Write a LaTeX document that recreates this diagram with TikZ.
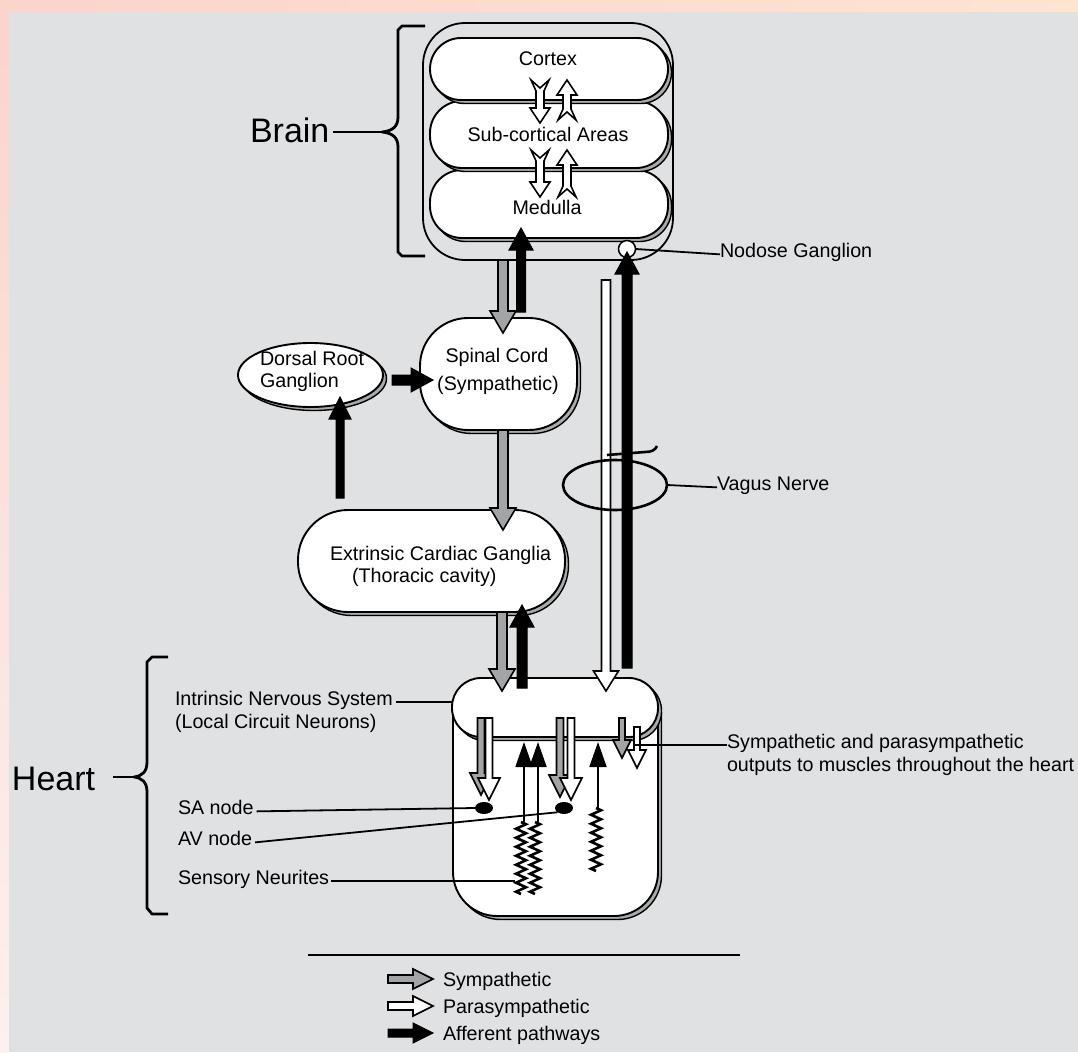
\documentclass[tikz,border=0pt]{standalone}
\usepackage{fontspec}
\setmainfont{Liberation Sans}
\usetikzlibrary{arrows.meta,calc,shapes.geometric,shadows,decorations.pathmorphing}
\definecolor{bgray}{HTML}{E0E1E3}
\definecolor{pinkA}{HTML}{FBD4CB}
\definecolor{peachA}{HTML}{FDE5D0}
\definecolor{pinkB}{HTML}{FDF0EE}
\definecolor{sgray}{HTML}{A2A4A6}
\definecolor{shgray}{HTML}{A8AAAC}

% block arrow: style, from, to, shaft half width, head half width, head length
\newcommand\blockarrow[6]{%
  \path[#1] let \p1=#2, \p2=#3,
    \n1={atan2(\y2-(\y1),\x2-(\x1))},
    \n2={abs(\x2-(\x1))+abs(\y2-(\y1))} in
    [shift={(\p1)}, rotate=\n1]
    (0,-#4) -- ({\n2-#6},-#4) -- ({\n2-#6},-#5) -- (\n2,0) --
    ({\n2-#6},#5) -- ({\n2-#6},#4) -- (0,#4) -- cycle;}
% fletched hollow arrow: style, from, to
\newcommand\fletch[3]{%
  \path[#1] let \p1=#2, \p2=#3,
    \n1={atan2(\y2-(\y1),\x2-(\x1))},
    \n2={abs(\x2-(\x1))+abs(\y2-(\y1))} in
    [shift={(\p1)}, rotate=\n1]
    (0,-9) -- (11,-4) -- ({\n2-15},-4) -- ({\n2-15},-10) -- (\n2,0) --
    ({\n2-15},10) -- ({\n2-15},4) -- (11,4) -- (0,9) -- (8,0) -- cycle;}

\tikzset{
  symp/.style={fill=sgray, draw=black, line width=1.6pt, line join=miter},
  para/.style={fill=white, draw=black, line width=1.6pt, line join=miter},
  aff/.style={fill=black, draw=black, line width=1pt},
  box/.style={draw=black, fill=white, line width=1.9pt,
     copy shadow={shadow xshift=3.5pt, shadow yshift=-3.5pt, fill=shgray, draw=black, line width=1.4pt}},
  txt/.style={anchor=base west, inner sep=0pt},
  ctxt/.style={anchor=base, inner sep=0pt},
  big/.style={font=\fontsize{34}{40}\selectfont},
  lead/.style={line width=1.8pt},
  bracesty/.style={line width=2.8pt, line join=round},
  thinaff/.style={line width=1.8pt, -{Triangle[width=17pt,length=25pt]}},
  neurite/.style={line width=2.6pt, decorate, decoration={zigzag, segment length=9pt, amplitude=5pt}},
}

\begin{document}
\begin{tikzpicture}[x=1pt, y=-1pt, every node/.style={inner sep=0pt, outer sep=0pt},
  font=\fontsize{19.7}{23}\selectfont]
\useasboundingbox (0,0) rectangle (1078,1052);
% background
\fill[pinkA] (0,0) rectangle (1078,1052);
\shade[left color=pinkA, right color=peachA] (0,0) rectangle (1078,12);
\shade[top color=pinkA, bottom color=pinkB] (0,12) rectangle (9,1052);
\fill[bgray] (9,12) rectangle (1078,1052);

% ---------------- Brain ----------------
\node[draw, line width=1.8pt, rounded corners=42pt, minimum width=250pt, minimum height=237pt] (brainbox) at (548,141.5) {};
\node[box, rounded corners=32pt, minimum width=238pt, minimum height=68pt] (medulla) at (549,204) {};
\node[box, rounded corners=32pt, minimum width=238pt, minimum height=67pt] (sub) at (549,134.5) {};
\node[box, rounded corners=31pt, minimum width=238pt, minimum height=62pt] (cortex) at (549,69) {};
\node[ctxt] (lcortex) at (548,65) {Cortex};
\node[ctxt] (lsub) at (548,141) {Sub-cortical Areas};
\node[ctxt] (lmed) at (547,214) {Medulla};
\fletch{para}{($(cortex.south)+(-9,-20)$)}{($(sub.north)+(-9,22)$)}
\fletch{para}{($(sub.north)+(18,19)$)}{($(cortex.south)+(18,-20)$)}
\fletch{para}{($(sub.south)+(-9,-18)$)}{($(medulla.north)+(-9,27)$)}
\fletch{para}{($(medulla.north)+(18,27)$)}{($(sub.south)+(18,-18)$)}

\node[txt, big] (brainlbl) at (250,142) {Brain};
\coordinate (bcusp) at (382,132);
\draw[bracesty] (425,26) -- (402,26) -- (398,30) -- (398,117)
  .. controls (398,127) and (392,131) .. (bcusp)
  .. controls (392,133) and (398,137) .. (398,147) -- (398,252) -- (402,256) -- (425,256);
\draw[line width=2.4pt] ($(brainlbl.east |- bcusp)+(4,0)$) -- (bcusp);

\node[circle, draw, fill=white, line width=1.5pt, minimum size=17pt] (nodose) at (627,249) {};
\node[txt] (nodlbl) at (720,257) {Nodose Ganglion};
\draw[lead] (nodose.east) -- (nodlbl.mid west);

% ---------------- Middle nodes ----------------
\node[box, rounded corners=48pt, minimum width=157pt, minimum height=112pt] (spinal) at (498.5,374) {};
\node[ctxt] (lspin1) at (497,362) {Spinal Cord};
\node[ctxt] (lspin2) at (498,390) {(Sympathetic)};

\node[box, ellipse, minimum width=145pt, minimum height=64pt] (drg) at (310.5,375) {};
\node[txt] (ldrg1) at (260,365) {Dorsal Root};
\node[txt] (ldrg2) at (260,387) {Ganglion};

\node[box, rounded corners=50pt, minimum width=267pt, minimum height=102pt] (extr) at (431.5,561) {};
\node[txt] (lext1) at (330,560) {Extrinsic Cardiac Ganglia};
\node[txt] (lext2) at (352,582) {(Thoracic cavity)};

% ---------------- Heart ----------------
\draw[fill=shgray, line width=1.4pt, rounded corners=44pt] (456.5,712) -- (456.5,919.5) -- (661.5,919.5) -- (661.5,712);
\draw[fill=white, line width=1.9pt, rounded corners=44pt] (453,712) -- (453,916) -- (658,916) -- (658,712);
\node[box, rounded corners=29pt, minimum width=206pt, minimum height=59pt] (lid) at (555,707.5) {};

% arrows between structures
\blockarrow{symp}{($(brainbox.south)+(-45,0)$)}{($(spinal.north)+(4.5,15)$)}{5}{13}{22}
\blockarrow{aff}{($(spinal.north)+(22.5,-6)$)}{($(medulla.south)+(-28,-10)$)}{4.5}{12}{22}
\blockarrow{aff}{($(drg.east)+(9,5)$)}{($(spinal.west)+(13,6)$)}{5}{12}{22}
\blockarrow{aff}{($(extr.north)+(-91.5,-12)$)}{($(drg.south)+(29.5,-10)$)}{4}{11}{22}
\blockarrow{symp}{($(spinal.south)+(4.5,0)$)}{($(extr.north)+(71.5,20)$)}{5}{13}{22}
\blockarrow{symp}{($(extr.south)+(70.5,0)$)}{($(lid.north)+(-53,13)$)}{5}{13}{22}
\blockarrow{aff}{($(lid.north)+(-33,10)$)}{($(extr.south)+(90.5,-7)$)}{5}{12}{22}
\blockarrow{para}{($(brainbox.south)+(58,20)$)}{($(lid.north)+(51,13)$)}{4.5}{12.5}{20}
\blockarrow{aff}{($(lid.north)+(72,-10)$)}{($(nodose.center)+(0,3)$)}{5}{12}{22}

% vagus loop
\coordinate (vag) at (615,485);
\draw[line width=2.6pt] (vag) ellipse [x radius=52pt, y radius=25pt];
\draw[line width=2.6pt] (607,455) -- (645,452) .. controls (652,452) and (655,450) .. (657,446);
\node[txt] (vaglbl) at (717,490) {Vagus Nerve};
\draw[lead] ($(vag)+(52,0)$) -- (vaglbl.mid west);

% inside heart
\node[ellipse, fill=black, minimum width=18pt, minimum height=12pt] (sa) at (484,808) {};
\node[ellipse, fill=black, minimum width=18pt, minimum height=12pt] (av) at (564,808) {};
\blockarrow{symp}{($(lid.south)+(-74,-19)$)}{($(sa)+(-3,-13)$)}{3.5}{11}{22}
\blockarrow{para}{($(lid.south)+(-66,-19)$)}{($(sa)+(5,-8)$)}{3.5}{11}{22}
\blockarrow{symp}{($(lid.south)+(5,-19)$)}{($(av)+(-4,-11)$)}{3.5}{11}{22}
\blockarrow{para}{($(lid.south)+(16,-19)$)}{($(av)+(7,-8)$)}{3.5}{11}{22}
\blockarrow{symp}{($(lid.south)+(67,-19)$)}{($(lid.south)+(67,21)$)}{3}{9}{18}
\blockarrow{para}{($(lid.south)+(82,-10)$)}{($(lid.south)+(82,31)$)}{3}{9}{18}

\coordinate (n1) at (524,822);
\coordinate (n2) at (538,822);
\coordinate (n3) at (598,808);
\draw[neurite] ($(n1)+(-3,0)$) -- ++(0,72);
\draw[neurite] ($(n2)+(-3,0)$) -- ++(0,72);
\draw[neurite] ($(n3)+(-2,0)$) -- ++(0,63);
\draw[thinaff] (n1) -- ($(lid.south)+(-31,5)$);
\draw[thinaff] (n2) -- ($(lid.south)+(-17,5)$);
\draw[thinaff] (n3) -- ($(lid.south)+(43,5)$);
\coordinate (neurtip) at (515,878);
\coordinate (outpt) at (633,741);

% heart labels
\node[txt, big] (heartlbl) at (12,790) {Heart};
\coordinate (hcusp) at (134,777);
\draw[bracesty] (168,657) -- (152,657) -- (147,662) -- (147,762)
  .. controls (147,772) and (142,776) .. (hcusp)
  .. controls (142,778) and (147,782) .. (147,792) -- (147,908) -- (152,914) -- (168,914);
\draw[line width=2.4pt] ($(heartlbl.east |- hcusp)+(18,0)$) -- (hcusp);

\node[txt] (ins1) at (175,705) {Intrinsic Nervous System};
\node[txt] (ins2) at (175,728) {(Local Circuit Neurons)};
\draw[lead] ($(ins1.mid east)+(3,0)$) -- (ins1.mid east -| lid.west);
\node[txt] (salbl) at (178,814) {SA node};
\draw[lead] ($(salbl.mid east)+(3,0)$) -- (sa.west);
\node[txt] (avlbl) at (178,845) {AV node};
\draw[lead] ($(avlbl.mid east)+(3,0)$) -- (av.south west);
\node[txt] (senslbl) at (178,884) {Sensory Neurites};
\draw[lead] ($(senslbl.mid east)+(2,0)$) -- (senslbl.mid east -| neurtip);
\node[txt] (out1) at (727,748) {Sympathetic and parasympathetic};
\node[txt] (out2) at (727,771) {outputs to muscles throughout the heart};
\draw[lead] (out1.mid west) -- (out1.mid west -| outpt);

% ---------------- Legend ----------------
\coordinate (legL) at (308,955);
\coordinate (legR) at (740,955);
\draw[line width=1.8pt] (legL) -- (legR);
\coordinate (ls0) at (388,979); \coordinate (ls1) at (433,979);
\coordinate (lp0) at (388,1006); \coordinate (lp1) at (433,1006);
\coordinate (la0) at (388,1033); \coordinate (la1) at (433,1033);
\blockarrow{symp}{(ls0)}{(ls1)}{4}{10}{20}
\blockarrow{para}{(lp0)}{(lp1)}{4}{10}{20}
\blockarrow{aff}{(la0)}{(la1)}{4}{10}{20}
\node[txt] (legs) at (443,986) {Sympathetic};
\node[txt] (legp) at (443,1013) {Parasympathetic};
\node[txt] (lega) at (443,1040) {Afferent pathways};
\end{tikzpicture}
\end{document}
